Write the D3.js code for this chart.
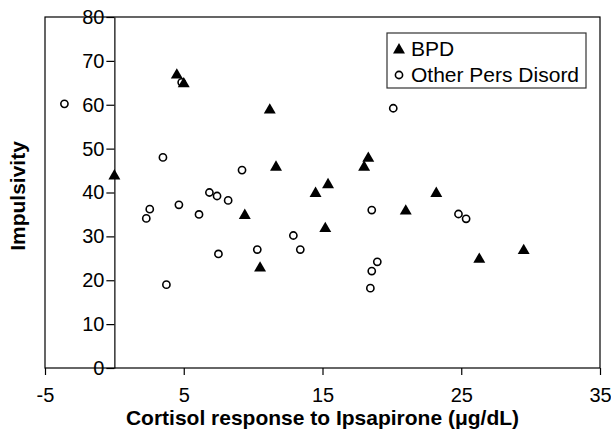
<!DOCTYPE html>
<html>
<head>
<meta charset="utf-8">
<script src="https://cdn.jsdelivr.net/npm/d3@7"></script>
<style>
  body { margin: 0; background: #fff; }
  text { font-family: "Liberation Sans", Arial, sans-serif; }
</style>
</head>
<body>
<div id="chart-area"></div>
<script>
// BPD group (triangles)
var bpdX = [0, 4.5, 5.0, 11.2, 11.65, 14.5, 15.4, 18.3, 18.0, 23.2, 21.0, 9.4, 10.5, 15.2, 26.3, 29.5];
var bpdY = [44, 67, 65, 59, 46, 40, 42, 48, 46, 40, 36, 35, 23, 32, 25, 27];

// Other personality disorders (circles)
var otherX = [-3.6, 4.85, 3.5, 9.2, 6.85, 7.4, 8.2, 4.65, 2.55, 2.3, 6.1, 7.5, 3.75, 10.3, 12.9, 13.4, 20.1, 18.55, 24.8, 25.35, 18.95, 18.55, 18.45];
var otherY = [60.2, 65.1, 48, 45.1, 40, 39.2, 38.2, 37.2, 36.2, 34.1, 35, 26, 19, 27, 30.2, 27, 59.2, 36, 35.1, 34, 24.2, 22.1, 18.2];

var xTicks = [-5, 5, 15, 25, 35];
var yTicks = [0, 10, 20, 30, 40, 50, 60, 70, 80];
var seriesNames = ["BPD", "Other Pers Disord"];

var margin = { left:45, right:11, top:17, bottom:73 };
var width = 611 - margin.left - margin.right,
    height = 441 - margin.top - margin.bottom;

var svg = d3.select("#chart-area")
    .append("svg")
        .attr("width", 611)
        .attr("height", 441);

var g = svg.append("g")
    .attr("transform", "translate(" + margin.left + ", " + margin.top + ")");

var x = d3.scaleLinear().domain([-5, 35]).range([0, width]);
var y = d3.scaleLinear().domain([0, 80]).range([height, 0]);

// frame
g.append("rect")
    .attr("x", 0).attr("y", 0)
    .attr("width", width).attr("height", height)
    .attr("fill", "none")
    .attr("stroke", "#000")
    .attr("stroke-width", 1.2);

// x axis along the bottom (plain hyphen for negatives, like the original)
var xAxis = g.append("g")
    .attr("transform", "translate(0," + height + ")")
    .call(d3.axisBottom(x).tickValues(xTicks).tickFormat(function(d){ return String(d); })
        .tickSize(7).tickPadding(13).tickSizeOuter(0));
xAxis.select(".domain").remove();
xAxis.selectAll("line").attr("stroke-width", 1.2);
xAxis.selectAll("text")
    .attr("font-size", 20)
    .attr("font-family", "Liberation Sans, Arial, sans-serif")
    .attr("fill", "#000");

// y axis crossing at x = 0
var yAxis = g.append("g")
    .attr("transform", "translate(" + x(0) + ",0)")
    .call(d3.axisLeft(y).tickValues(yTicks).tickSize(8).tickPadding(2).tickSizeOuter(0));
yAxis.selectAll("line").attr("stroke-width", 1.2);
yAxis.select(".domain").attr("stroke-width", 1.2);
yAxis.selectAll("text")
    .attr("font-size", 20)
    .attr("font-family", "Liberation Sans, Arial, sans-serif")
    .attr("fill", "#000");

var tri = d3.symbol().type(d3.symbolTriangle).size(62);

// circles
g.selectAll("circle.other")
    .data(otherX.map(function(d, i){ return { x: d, y: otherY[i] }; }))
    .enter()
    .append("circle")
        .attr("class", "other")
        .attr("cx", function(d){ return x(d.x); })
        .attr("cy", function(d){ return y(d.y); })
        .attr("r", 3.6)
        .attr("fill", "#fff")
        .attr("stroke", "#000")
        .attr("stroke-width", 1.6);

// triangles
g.selectAll("path.bpd")
    .data(bpdX.map(function(d, i){ return { x: d, y: bpdY[i] }; }))
    .enter()
    .append("path")
        .attr("class", "bpd")
        .attr("d", tri)
        .attr("transform", function(d){ return "translate(" + x(d.x) + "," + (y(d.y) + 1) + ")"; })
        .attr("fill", "#000");

// legend
var legend = svg.append("g").attr("transform", "translate(387,33)");
legend.append("rect")
    .attr("width", 199).attr("height", 55)
    .attr("fill", "#fff")
    .attr("stroke", "#333")
    .attr("stroke-width", 1.2);
legend.append("path")
    .attr("d", tri)
    .attr("transform", "translate(12,17)")
    .attr("fill", "#000");
legend.append("circle")
    .attr("cx", 12).attr("cy", 42).attr("r", 3.6)
    .attr("fill", "#fff").attr("stroke", "#000").attr("stroke-width", 1.6);
legend.selectAll("text.lab")
    .data(seriesNames)
    .enter()
    .append("text")
        .attr("class", "lab")
        .attr("x", 24)
        .attr("y", function(d, i){ return 23 + i * 26; })
        .attr("font-size", 21)
        .attr("fill", "#000")
        .text(function(d){ return d; });

// axis titles
svg.append("text")
    .attr("x", margin.left + width / 2)
    .attr("y", 425)
    .attr("text-anchor", "middle")
    .attr("font-size", 21)
    .attr("font-weight", "bold")
    .attr("fill", "#000")
    .text("Cortisol response to Ipsapirone (μg/dL)");

svg.append("text")
    .attr("transform", "translate(25,196) rotate(-90)")
    .attr("text-anchor", "middle")
    .attr("font-size", 21)
    .attr("font-weight", "bold")
    .attr("fill", "#000")
    .text("Impulsivity");
</script>
</body>
</html>
